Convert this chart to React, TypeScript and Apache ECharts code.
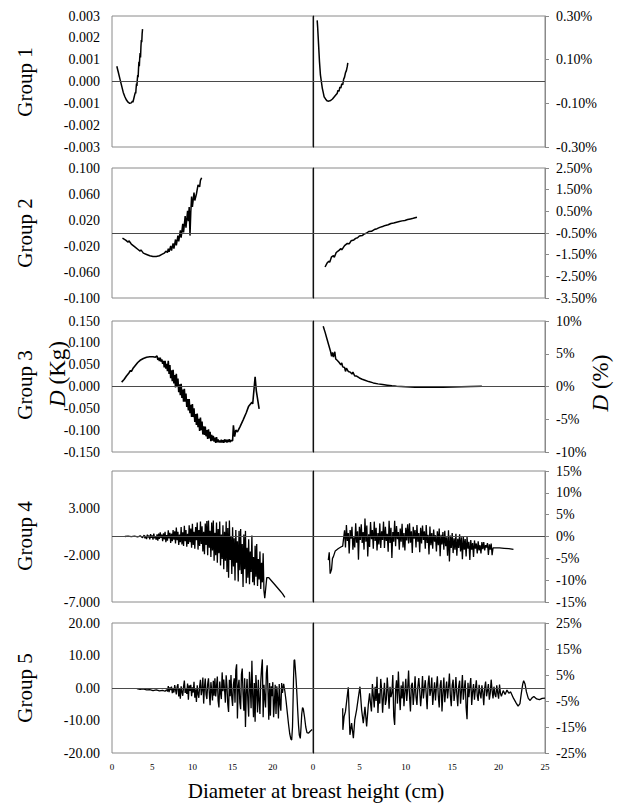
import React, { useEffect, useRef } from "react";
import * as echarts from "echarts";

type P = [number, number][];

const FONT = "Liberation Serif, Times New Roman, DejaVu Serif, serif";

// ---------- tick values ----------
const xTicksLeft = [0, 5, 10, 15, 20];
const xTicksRight = [0, 5, 10, 15, 20, 25];
const y1L = [-0.003, -0.002, -0.001, 0, 0.001, 0.002, 0.003];
const y1R = [-0.3, -0.1, 0.1, 0.3];
const y2L = [-0.1, -0.06, -0.02, 0.02, 0.06, 0.1];
const y2R = [-3.5, -2.5, -1.5, -0.5, 0.5, 1.5, 2.5];
const y3L = [-0.15, -0.1, -0.05, 0, 0.05, 0.1, 0.15];
const y3R = [-10, -5, 0, 5, 10];
const y4L = [-7, -2, 3];
const y4R = [-15, -10, -5, 0, 5, 10, 15];
const y5L = [-20, -10, 0, 10, 20];
const y5R = [-25, -15, -5, 5, 15, 25];

// ---------- Group 1 ----------
const g1L: P = [[0.6,0.0007],[0.8,0.0004],[1.0,0.0001],[1.2,-0.0002],[1.4,-0.0005],[1.6,-0.0007],[1.8,-0.00085],[2.0,-0.00095],[2.2,-0.001],[2.4,-0.00098],[2.55,-0.0009],[2.6,-0.00095],[2.7,-0.0008],[2.8,-0.00065],[2.9,-0.0005],[2.95,-0.00055],[3.0,-0.0003],[3.05,-0.0001],[3.1,-0.0002],[3.15,0.0001],[3.2,0.0003],[3.25,0.0002],[3.3,0.0006],[3.35,0.0009],[3.4,0.0007],[3.45,0.0011],[3.5,0.0013],[3.55,0.0011],[3.6,0.0016],[3.65,0.0019],[3.7,0.0018],[3.75,0.0022],[3.8,0.0024]];
const g1R: P = [[0.45,0.28],[0.5,0.25],[0.55,0.21],[0.6,0.17],[0.65,0.13],[0.7,0.09],[0.75,0.06],[0.8,0.03],[0.9,0.0],[1.0,-0.03],[1.1,-0.05],[1.2,-0.07],[1.35,-0.08],[1.5,-0.088],[1.7,-0.09],[1.9,-0.087],[2.1,-0.08],[2.3,-0.07],[2.5,-0.06],[2.6,-0.055],[2.7,-0.04],[2.8,-0.045],[2.9,-0.025],[3.0,-0.03],[3.1,-0.01],[3.2,-0.015],[3.3,0.01],[3.4,0.02],[3.5,0.04],[3.6,0.05],[3.7,0.07],[3.75,0.085]];

// ---------- Group 2 ----------
const g2L: P = [[1.3,-0.008],[1.7,-0.011],[2.0,-0.014],[2.1,-0.012],[2.4,-0.017],[2.8,-0.021],[3.2,-0.025],[3.5,-0.028],[3.6,-0.026],[3.9,-0.031],[4.3,-0.033],[4.7,-0.035],[5.1,-0.036],[5.5,-0.036],[5.9,-0.035],[6.2,-0.033],[6.5,-0.031],[6.7,-0.028],[6.9,-0.030],[7.0,-0.024],[7.1,-0.029],[7.3,-0.020],[7.4,-0.027],[7.6,-0.016],[7.7,-0.024],[7.9,-0.010],[8.0,-0.019],[8.2,-0.004],[8.3,-0.013],[8.5,0.004],[8.6,-0.007],[8.8,0.014],[8.9,0.001],[9.1,0.026],[9.2,0.008],[9.4,0.034],[9.5,0.018],[9.6,0.040],[9.7,-0.004],[9.8,0.032],[9.9,0.056],[10.0,0.040],[10.2,0.062],[10.3,0.050],[10.5,0.060],[10.7,0.074],[10.9,0.071],[11.0,0.081],[11.15,0.085]];
const g2R: P = [[1.3,-2.07],[1.5,-1.9],[1.7,-1.8],[1.8,-1.85],[2.0,-1.6],[2.2,-1.55],[2.3,-1.62],[2.5,-1.4],[2.8,-1.3],[3.0,-1.22],[3.1,-1.28],[3.4,-1.08],[3.7,-0.98],[3.9,-1.0],[4.1,-0.86],[4.4,-0.82],[4.6,-0.75],[4.8,-0.72],[5.0,-0.64],[5.3,-0.62],[5.5,-0.55],[5.8,-0.5],[6.0,-0.43],[6.3,-0.42],[6.6,-0.34],[6.9,-0.3],[7.2,-0.24],[7.5,-0.2],[7.8,-0.15],[8.1,-0.12],[8.4,-0.06],[8.7,-0.04],[9.0,0.0],[9.3,0.03],[9.6,0.06],[9.9,0.08],[10.2,0.12],[10.5,0.15],[10.8,0.18],[11.2,0.23]];

// ---------- Group 3 ----------
const g3LHead: P = [[1.2,0.010],[1.5,0.016],[1.8,0.024],[2.1,0.031],[2.3,0.037],[2.4,0.034],[2.6,0.041],[2.9,0.048],[3.2,0.055],[3.5,0.060],[3.9,0.064],[4.3,0.067],[4.7,0.068],[5.1,0.068],[5.4,0.067]];
const g3LNoiseStart = 5.6;
const g3LNoise = [0.070,0.061,0.066,0.058,0.066,0.057,0.062,0.052,0.059,0.044,0.059,0.041,0.052,0.035,0.059,0.029,0.049,0.019,0.037,0.012,0.038,0.007,0.026,-0.002,0.029,-0.001,0.018,-0.013,0.005,-0.020,0.006,-0.026,-0.007,-0.035,-0.005,-0.035,-0.016,-0.047,-0.029,-0.055,-0.029,-0.061,-0.042,-0.070,-0.040,-0.070,-0.050,-0.081,-0.063,-0.088,-0.062,-0.093,-0.074,-0.102,-0.071,-0.100,-0.080,-0.110,-0.091,-0.111,-0.092,-0.114,-0.100,-0.120,-0.098,-0.119,-0.104,-0.125,-0.111,-0.124,-0.113,-0.126,-0.117,-0.129,-0.116,-0.128,-0.121,-0.128,-0.124,-0.128,-0.122,-0.128,-0.123,-0.129,-0.121,-0.127,-0.122,-0.128,-0.122,-0.127,-0.121,-0.127,-0.124];
const g3LTail: P = [[15.0,-0.124],[15.1,-0.089],[15.25,-0.115],[15.4,-0.100],[15.6,-0.104],[15.9,-0.093],[16.3,-0.077],[16.7,-0.060],[17.0,-0.045],[17.4,-0.036],[17.5,-0.040],[17.8,0.022],[17.95,-0.010],[18.3,-0.051]];
const g3R: P = [[1.1,9.2],[1.3,8.3],[1.5,7.3],[1.7,6.3],[1.9,5.3],[2.0,4.6],[2.1,5.2],[2.2,4.5],[2.35,5.3],[2.45,4.2],[2.6,4.0],[2.8,3.7],[3.0,3.3],[3.1,3.6],[3.2,3.0],[3.4,2.9],[3.5,2.3],[3.6,2.8],[3.8,2.3],[4.0,2.2],[4.2,1.9],[4.3,2.2],[4.5,1.6],[4.7,1.6],[5.0,1.3],[5.3,1.1],[5.6,0.95],[6.0,0.75],[6.5,0.55],[7.0,0.4],[7.5,0.3],[8.0,0.2],[8.5,0.1],[9.0,0.03],[10.0,-0.05],[11.0,-0.1],[12.0,-0.12],[13.0,-0.12],[14.0,-0.1],[15.0,-0.07],[16.0,-0.04],[17.0,-0.01],[18.2,0.03]];

// ---------- Group 4 ----------
const g4LHead: P = [[1.6,0],[2.0,0.03],[2.4,-0.02],[2.8,0.04],[3.2,-0.05],[3.5,0.08],[3.8,-0.12]];
const g4LNoiseStart = 4.0;
const g4LNoise = [
  0.15,-0.2,0.05,-0.28,0.2,-0.1,0.1,-0.3,0.25,-0.15,
  0.12,-0.33,0.3,-0.2,0.05,-0.35,0.22,-0.45,0.3,-0.25,
  0.45,-0.15,0.2,-0.5,0.35,-0.3,0.5,-0.6,0.15,-0.45,
  0.65,-0.2,0.4,-0.7,0.3,-0.5,0.7,-0.35,0.55,-0.75,
  0.95,-0.4,0.5,-0.9,0.2,-0.6,1.0,-0.85,0.45,-1.0,
  1.15,-0.5,0.7,-1.1,0.3,-0.8,1.2,-0.6,0.85,-1.2,
  1.35,-0.9,0.5,-1.3,1.0,-0.4,1.5,-1.4,0.7,-1.0,
  1.6,-0.8,1.1,-1.6,0.5,-1.9,1.4,-0.9,1.65,-2.0,
  1.7,-1.2,0.6,-2.2,1.5,-1.5,1.7,-2.6,0.4,-2.0,
  1.5,-2.8,0.8,-1.8,1.6,-3.1,0.2,-2.4,1.2,-3.5,
  0.5,-2.6,1.6,-3.8,0.9,-4.4,1.7,-2.5,0.0,-4.0,
  1.0,-3.2,-0.2,-4.7,0.7,-2.8,-0.5,-4.8,0.6,-3.6,
  0.8,-4.0,-0.8,-5.4,0.2,-3.5,0.6,-5.0,-1.2,-4.4,
  -0.3,-5.1,-1.6,-3.8,0.1,-4.9,-2.2,-5.2,-1.0,-4.3,
  -0.8,-5.3,-2.4,-4.6,-1.6,-5.6,-2.8,-4.9,-1.8,-5.8,
  -6.6,
];
const g4LTail: P = [[19.25,-4.4],[19.5,-4.4],[19.8,-4.7],[20.1,-5.0],[20.5,-5.4],[20.9,-5.8],[21.2,-6.1],[21.5,-6.5]];
const g4RHead: P = [[1.65,-5.4],[1.75,-3.6],[1.85,-8.5],[2.0,-7.5],[2.1,-5.0],[2.2,-4.6],[2.4,-3.3],[2.7,-2.8],[3.0,-2.4],[3.2,-2.2]];
const g4RNoiseStart = 3.4;
const g4RNoise = [
  1.4,-2.5,2.6,-1.0,0.8,-3.9,1.5,-0.5,2.2,-3.0,
  -0.2,-2.5,3.0,-1.4,1.2,-5.3,2.2,-0.8,2.8,-1.5,
  1.0,-3.0,4.1,-1.2,2.5,-4.6,0.5,-2.4,3.3,-0.6,
  1.5,-2.8,3.4,-1.0,2.0,-3.2,0.8,-1.8,3.0,-2.6,
  1.2,-0.8,3.4,-2.6,2.2,-1.0,0.6,-3.5,3.6,-1.5,
  2.0,-4.9,1.0,-1.2,3.6,-2.2,2.4,-0.6,1.0,-3.0,
  1.8,-1.2,2.9,-2.5,0.8,-3.2,2.0,-0.9,2.8,-1.6,
  3.0,-1.4,1.2,-3.8,2.2,-0.5,1.5,-2.5,2.6,-1.2,
  0.8,-3.6,2.0,-1.6,2.5,-0.8,1.2,-2.8,2.6,-1.5,
  0.4,-4.1,2.3,-2.0,0.8,-2.8,1.6,-1.2,0.3,-3.4,
  1.2,-2.0,1.8,-4.5,0.4,-1.8,1.0,-3.0,1.3,-2.2,
  -0.2,-4.4,1.4,-5.7,0.2,-2.6,0.8,-3.8,-0.4,-3.0,
  0.6,-4.4,-0.5,-2.6,0.5,-3.4,-0.2,-5.2,0.0,-3.0,
  -0.6,-4.6,-0.1,-2.8,-1.2,-5.4,-0.8,-3.0,-1.5,-4.7,
  -0.9,-2.8,-1.6,-3.9,-1.1,-3.2,-2.0,-3.9,-1.3,-2.9,
  -1.3,-3.2,-2.0,-2.5,-1.5,-4.2,-1.8,-3.0,-1.6,-4.3,
  -2.6,
];
const g4RTail: P = [[19.7,-2.6],[20.1,-2.6],[20.6,-2.7],[21.1,-2.8],[21.6,-2.95]];

// ---------- Group 5 ----------
const g5LHead: P = [[3.1,-0.2],[3.5,-0.4],[3.9,-0.3],[4.3,-0.6],[4.7,-0.5],[5.1,-0.8],[5.5,-0.6],[5.9,-0.9],[6.3,-0.7],[6.6,-1.0]];
const g5LNoiseStart = 6.8;
const g5LNoise = [
  -0.5,-1.1,0.6,-1.3,0.2,-0.6,0.4,-1.6,-0.2,-1.4,
  0.9,-0.4,-2.0,0.4,1.2,-2.6,-0.3,-3.3,0.5,-1.2,
  -2.4,0.4,2.3,-1.5,-0.2,-1.8,1.4,-3.6,0.8,-0.9,
  1.0,-2.5,0.2,-1.4,1.9,-3.0,-0.4,-4.3,0.8,-1.8,
  -3.0,0.5,2.5,-2.2,-0.5,3.2,-4.8,0.2,2.9,-2.0,
  -3.4,1.2,3.0,-1.5,-5.3,1.8,-0.8,-3.8,2.2,-2.4,
  3.0,-2.6,0.5,3.5,-4.0,-6.0,2.0,-1.5,-3.4,4.8,
  -1.0,2.6,-0.5,-4.5,3.9,0.5,-5.0,-7.4,2.5,-2.5,
  4.0,-3.0,-5.5,1.0,3.0,-4.5,5.5,7.3,-9.4,0.5,
  2.5,-4.5,-6.5,4.2,6.0,-2.0,-7.0,3.0,-12.0,-1.5,
  2.8,-4.0,-8.8,5.0,0.5,-6.2,8.4,-2.5,-9.0,1.5,
  -10.4,4.0,-1.0,-7.5,2.5,-4.0,-8.0,1.8,6.0,8.8,
  -9.0,1.0,-3.0,-6.0,4.5,7.0,-1.0,-9.8,1.5,-8.5,
  0.5,-2.5,1.8,-9.0,-4.5,1.0,-8.0,0.5,-3.0,-9.4,
  1.2,-5.0,-7.0,1.5,-1.5,
];
const g5LTail: P = [[21.35,1.3],[21.5,-1.0],[21.65,-4.0],[21.8,-7.5],[21.95,-11.0],[22.1,-14.0],[22.25,-15.7],[22.35,-16.0],[22.45,-12.0],[22.52,-4.0],[22.58,3.0],[22.65,8.5],[22.72,8.7],[22.8,6.0],[22.9,2.5],[23.0,-2.0],[23.1,-7.0],[23.2,-11.5],[23.3,-14.5],[23.42,-15.5],[23.5,-12.5],[23.6,-8.0],[23.7,-6.0],[23.8,-6.5],[23.95,-9.0],[24.1,-12.0],[24.25,-13.7],[24.45,-13.9],[24.65,-13.3],[24.9,-12.8]];
const g5RHead: P = [[3.2,-7.8],[3.22,-16.1],[3.35,-11.0],[3.5,-9.0],[3.6,-5.9],[3.8,0.3],[3.98,-18.0],[4.16,-13.5],[4.35,-19.3],[4.5,-12.3],[4.7,-8.4],[4.9,-3.3],[5.06,0.5],[5.24,-8.4],[5.42,-13.5],[5.6,-7.2],[5.78,-14.8],[5.96,-6.5]];
const g5RNoiseStart = 6.1;
const g5RNoise = [
  -2.0,-6.0,-9.0,1.5,-3.0,-7.5,0.5,-5.0,4.3,-9.6,
  -2.0,-6.0,3.5,-1.0,-9.5,-3.0,2.0,-6.5,-4.5,4.0,
  -1.5,-8.0,0.5,-3.5,-2.0,5.0,-10.8,-14.2,-1.0,3.0,
  -6.0,6.3,-2.5,-8.5,1.0,-4.0,2.5,-7.0,-1.5,3.5,
  -5.0,-0.5,6.7,-3.0,-9.0,1.0,2.0,-6.5,-2.0,4.5,
  -3.5,-6.5,0.5,3.8,-1.0,-7.0,-2.5,4.6,-4.0,0.0,
  3.0,-2.5,-8.2,1.5,4.8,-3.0,-1.0,4.0,-6.5,-2.0,
  2.2,-4.8,0.5,4.5,-3.0,-7.5,1.0,3.0,-9.0,-2.0,
  4.0,-5.5,-1.0,2.5,-4.0,0.0,5.6,-3.0,-7.0,1.0,
  3.2,-5.0,-1.5,4.2,-2.5,-7.0,0.5,2.8,-6.0,-1.0,
  5.0,-4.5,-0.5,3.0,-7.5,-12.0,2.0,-3.5,0.5,3.8,
  -6.5,-1.5,1.5,-4.5,-0.5,3.0,-3.0,-5.0,1.2,-2.0,
  -4.0,1.0,-1.5,-6.6,0.0,2.5,-3.2,-1.0,1.5,-4.5,
  -2.0,3.2,-1.0,-4.0,0.5,-2.5,-3.5,1.0,-1.8,-4.1,
  1.3,-2.0,-3.2,
];
const g5RTail: P = [[20.5,-1.0],[20.7,-2.5],[20.9,-0.8],[21.1,-2.0],[21.3,-1.5],[21.6,-3.9],[21.9,-5.8],[22.1,-7.0],[22.3,-6.0],[22.45,-2.0],[22.6,1.5],[22.7,2.8],[22.85,1.5],[23.0,-1.5],[23.2,-4.0],[23.4,-4.8],[23.6,-3.8],[23.8,-3.3],[24.1,-4.2],[24.4,-4.5],[24.7,-4.0],[25.0,-3.9]];

const NOISE_STEP = 0.1;

function dense(x0: number, ys: number[]): P {
  return ys.map((y, i) => [Math.round((x0 + i * NOISE_STEP) * 1000) / 1000, y] as [number, number]);
}

const rowTops = [16, 168, 321, 471, 623];
const rowHeights = [131, 130, 131, 131, 130];

const fmtFixed = (d: number) => (v: number) => v.toFixed(d);
const fmtPct = (d: number) => (v: number) => v.toFixed(d) + "%";

const rows = [
  { left: g1L, right: g1R, yl: y1L, yr: y1R, fl: fmtFixed(3), fr: fmtPct(2), wl: 1.5, wr: 1.5 },
  { left: g2L, right: g2R, yl: y2L, yr: y2R, fl: fmtFixed(3), fr: fmtPct(2), wl: 1.5, wr: 1.5 },
  {
    left: [...g3LHead, ...dense(g3LNoiseStart, g3LNoise), ...g3LTail],
    right: g3R, yl: y3L, yr: y3R, fl: fmtFixed(3), fr: fmtPct(0), wl: 1.6, wr: 1.5,
  },
  {
    left: [...g4LHead, ...dense(g4LNoiseStart, g4LNoise), ...g4LTail],
    right: [...g4RHead, ...dense(g4RNoiseStart, g4RNoise), ...g4RTail],
    yl: y4L, yr: y4R, fl: fmtFixed(3), fr: fmtPct(0), lmin: -7, lmax: 7, wl: 1.3, wr: 1.3,
  },
  {
    left: [...g5LHead, ...dense(g5LNoiseStart, g5LNoise), ...g5LTail],
    right: [...g5RHead, ...dense(g5RNoiseStart, g5RNoise), ...g5RTail],
    yl: y5L, yr: y5R, fl: fmtFixed(2), fr: fmtPct(0), wl: 1.3, wr: 1.3,
  },
];

const BORDER = "#8a8a8a";
const ZERO = "#4a4a4a";

function buildOption() {
  const grid: any[] = [];
  const xAxis: any[] = [];
  const yAxis: any[] = [];
  const series: any[] = [];
  rows.forEach((r: any, i) => {
    const top = rowTops[i];
    const height = rowHeights[i];
    const last = i === rows.length - 1;
    grid.push({ left: 112, top, width: 201, height, show: true, borderColor: BORDER, borderWidth: 1 });
    grid.push({ left: 313, top, width: 232, height, show: true, borderColor: BORDER, borderWidth: 1 });
    [xTicksLeft, xTicksRight].forEach((ticks, k) => {
      xAxis.push({
        type: "value", gridIndex: 2 * i + k, min: 0, max: 25,
        axisLine: { show: false, onZero: false },
        axisTick: { show: false },
        splitLine: { show: false },
        axisLabel: last
          ? { show: true, customValues: ticks, fontSize: 9, fontFamily: FONT, color: "#000", margin: 9 }
          : { show: false },
      });
    });
    const lmin = r.lmin ?? r.yl[0];
    const lmax = r.lmax ?? r.yl[r.yl.length - 1];
    const rmin = r.yr[0];
    const rmax = r.yr[r.yr.length - 1];
    yAxis.push({
      type: "value", gridIndex: 2 * i, position: "left", min: lmin, max: lmax,
      axisLine: { show: false, onZero: false },
      axisTick: { show: false },
      splitLine: { show: false },
      axisLabel: { customValues: r.yl, formatter: r.fl, fontSize: 14, fontFamily: FONT, color: "#000", margin: 12 },
    });
    yAxis.push({
      type: "value", gridIndex: 2 * i + 1, position: "right", min: rmin, max: rmax,
      axisLine: { show: true, onZero: false, lineStyle: { color: BORDER, width: 1 } },
      axisTick: { show: true, customValues: r.yr, length: 4, inside: false, lineStyle: { color: BORDER } },
      splitLine: { show: false },
      axisLabel: { customValues: r.yr, formatter: r.fr, fontSize: 14, fontFamily: FONT, color: "#000", margin: 11 },
    });
    yAxis.push({
      type: "value", gridIndex: 2 * i + 1, position: "left", min: -1, max: 1,
      axisLine: { show: true, onZero: false, lineStyle: { color: "#111", width: 1.2 } },
      axisTick: { show: false },
      axisLabel: { show: false },
      splitLine: { show: false },
    });
    const mk = (v: number) => ({
      silent: true, symbol: ["none", "none"], label: { show: false },
      lineStyle: { color: ZERO, width: 1, type: "solid" },
      emphasis: { disabled: true },
      data: [{ yAxis: v }],
    });
    series.push({
      type: "line", xAxisIndex: 2 * i, yAxisIndex: 3 * i, data: r.left,
      showSymbol: false, symbol: "none", lineStyle: { color: "#000", width: r.wl },
      markLine: mk(0), z: 3,
    });
    series.push({
      type: "line", xAxisIndex: 2 * i + 1, yAxisIndex: 3 * i + 1, data: r.right,
      showSymbol: false, symbol: "none", lineStyle: { color: "#000", width: r.wr },
      markLine: mk((rmin + rmax) / 2), z: 3,
    });
  });

  const groupCenters = [82, 233, 385, 536, 688];
  const graphic: any[] = groupCenters.map((y, i) => ({
    type: "text", x: 25, y, rotation: Math.PI / 2,
    style: { text: "Group " + (i + 1), fontSize: 21, fontFamily: FONT, fill: "#000", align: "center", verticalAlign: "middle" },
  }));
  graphic.push({
    type: "text", x: 57, y: 374, rotation: Math.PI / 2,
    style: {
      text: "{i|D} (Kg)", fontSize: 23, fontFamily: FONT, fill: "#000", align: "center", verticalAlign: "middle",
      rich: { i: { fontStyle: "italic", fontSize: 23, fontFamily: FONT, fill: "#000" } },
    },
  });
  graphic.push({
    type: "text", x: 600, y: 383, rotation: Math.PI / 2,
    style: {
      text: "{i|D} (%)", fontSize: 23, fontFamily: FONT, fill: "#000", align: "center", verticalAlign: "middle",
      rich: { i: { fontStyle: "italic", fontSize: 23, fontFamily: FONT, fill: "#000" } },
    },
  });
  graphic.push({
    type: "text", x: 316, y: 791,
    style: { text: "Diameter at breast height (cm)", fontSize: 21, fontFamily: FONT, fill: "#000", align: "center", verticalAlign: "middle" },
  });

  return {
    animation: false,
    backgroundColor: "#fff",
    textStyle: { fontFamily: FONT },
    grid, xAxis, yAxis, series, graphic,
  };
}

export default function App() {
  const ref = useRef<HTMLDivElement>(null);
  useEffect(() => {
    if (!ref.current) return;
    const chart = echarts.init(ref.current, undefined, { renderer: "svg" });
    chart.setOption(buildOption() as any);
    return () => chart.dispose();
  }, []);
  return <div ref={ref} style={{ position: "absolute", left: 0, top: 0, width: 622, height: 806 }} />;
}
